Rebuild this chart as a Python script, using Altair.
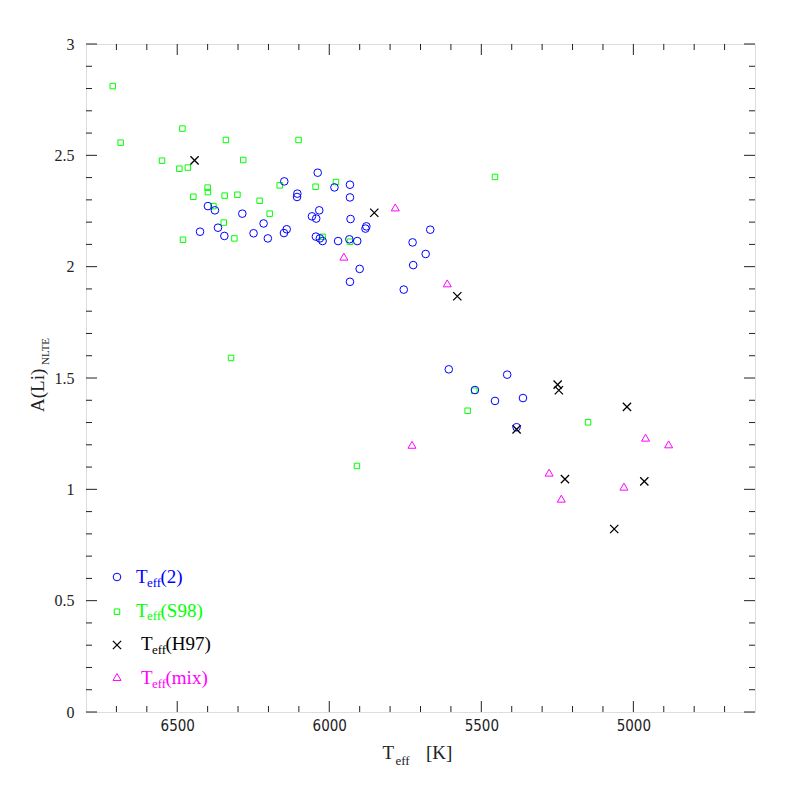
import altair as alt
import pandas as pd

# ---------------- data ----------------
# Teff(2) : blue circles
T2_TEFF = [6148, 6038, 6105, 6106, 5983, 5932, 5932, 6399, 6376, 6286, 6057, 6033, 6043, 5930,
           6425, 6366, 6216, 6345, 6249, 6202, 6149, 6140, 6044, 6031, 6022, 5971, 5934, 5908,
           5878, 5881, 5900, 5932, 5668, 5726, 5683, 5724, 5755, 5607, 5415, 5521, 5455, 5363, 5384]
T2_ALI = [2.383, 2.422, 2.328, 2.313, 2.356, 2.368, 2.311, 2.272, 2.253, 2.238, 2.226, 2.253, 2.216, 2.214,
          2.157, 2.175, 2.194, 2.138, 2.150, 2.127, 2.151, 2.168, 2.135, 2.127, 2.115, 2.115, 2.123, 2.115,
          2.181, 2.171, 1.990, 1.932, 2.166, 2.109, 2.057, 2.007, 1.897, 1.539, 1.515, 1.446, 1.397, 1.410, 1.279]

# Teff(S98) : green squares
S98_TEFF = [6712, 6686, 6483, 6340, 6101, 6550, 6283, 6493, 6465, 6163, 6045, 5978, 6400, 6399, 6447,
            6344, 6302, 6229, 6381, 6196, 6347, 6481, 6312, 6022, 5932, 6323, 5909, 5455, 5523, 5545, 5149]
S98_ALI = [2.811, 2.557, 2.620, 2.569, 2.569, 2.476, 2.479, 2.440, 2.445, 2.365, 2.359, 2.380, 2.355, 2.335, 2.314,
           2.319, 2.323, 2.296, 2.272, 2.238, 2.198, 2.121, 2.127, 2.134, 2.112, 1.590, 1.105, 2.403, 1.443, 1.353, 1.301]

# Teff(H97) : black crosses
H97_TEFF = [6443, 5852, 5579, 5249, 5245, 5384, 5021, 5225, 4964, 5063]
H97_ALI = [2.477, 2.242, 1.867, 1.470, 1.445, 1.269, 1.370, 1.046, 1.036, 0.822]

# Teff(mix) : magenta triangles
MIX_TEFF = [5783, 5952, 5612, 5728, 5277, 5237, 4960, 4884, 5031]
MIX_ALI = [2.266, 2.045, 1.925, 1.200, 1.075, 0.958, 1.232, 1.202, 1.012]

X_MAJOR = [6500, 6000, 5500, 5000]
X_MINOR = [6700, 6600, 6400, 6300, 6200, 6100, 5900, 5800, 5700, 5600,
           5400, 5300, 5200, 5100, 4900, 4800, 4700]
Y_MAJOR = [0, 0.5, 1, 1.5, 2, 2.5, 3]
Y_MINOR = [0.1, 0.2, 0.3, 0.4, 0.6, 0.7, 0.8, 0.9, 1.1, 1.2, 1.3, 1.4, 1.6, 1.7, 1.8, 1.9,
           2.1, 2.2, 2.3, 2.4, 2.6, 2.7, 2.8, 2.9]

LEGEND_LABELS = ["(2)", "(S98)", "(H97)", "(mix)"]

# ---------------- styling ----------------
W, H = 669, 668
SERIF = "Liberation Serif"
NARROW = "Liberation Sans Narrow, DejaVu Sans Condensed, Liberation Sans"
AXC = "#222222"
BLUE, GREEN, BLACK, MAGENTA = "#0000ff", "#00ff00", "#000000", "#ff00ff"
CROSS = "M-1,-1L1,1M1,-1L-1,1"

xscale = alt.Scale(domain=[4600, 6800], reverse=True, nice=False, zero=False)
yscale = alt.Scale(domain=[0, 3], nice=False, zero=False)
xaxis = alt.Axis(values=X_MAJOR, labelExpr="datum.value + ''", ticks=False, tickSize=0, domain=False,
                 grid=False, title=None, labelFont=NARROW, labelFontSize=15, labelPadding=6,
                 labelColor=AXC)
yaxis = alt.Axis(values=Y_MAJOR, labelExpr="datum.value + ''", ticks=False, tickSize=0, domain=False,
                 grid=False, title=None, labelFont=SERIF, labelFontSize=16, labelPadding=12,
                 labelColor=AXC)


def pts(tv, av, shape, color, size, sw=1.0):
    df = pd.DataFrame({"T": tv, "A": av})
    return alt.Chart(df).mark_point(shape=shape, filled=False, color=color, size=size,
                                    strokeWidth=sw, opacity=1).encode(
        x=alt.X("T:Q", scale=xscale, axis=xaxis),
        y=alt.Y("A:Q", scale=yscale, axis=yaxis),
    )


def xticks(vals, length):
    df = pd.DataFrame({"T": vals})
    base = alt.Chart(df).mark_rule(color=AXC, strokeWidth=1)
    enc_x = alt.X("T:Q", scale=xscale, axis=xaxis)
    bottom = base.encode(x=enc_x, y=alt.value(H), y2=alt.value(H - length))
    top = base.encode(x=enc_x, y=alt.value(0), y2=alt.value(length))
    return [bottom, top]


def yticks(vals, length):
    df = pd.DataFrame({"A": vals})
    base = alt.Chart(df).mark_rule(color=AXC, strokeWidth=1)
    enc_y = alt.Y("A:Q", scale=yscale, axis=yaxis)
    left = base.encode(y=enc_y, x=alt.value(0), x2=alt.value(length))
    right = base.encode(y=enc_y, x=alt.value(W), x2=alt.value(W - length))
    return [left, right]


def txt(s, x, y, size, color, angle=0, align="left"):
    return alt.Chart(pd.DataFrame({"t": [s]})).mark_text(
        font=SERIF, fontSize=size, color=color, align=align, baseline="alphabetic", angle=angle
    ).encode(x=alt.value(x), y=alt.value(y), text="t:N")


def sym(shape, color, size, x, y, sw=1.0):
    return alt.Chart(pd.DataFrame({"s": [1]})).mark_point(
        shape=shape, filled=False, color=color, size=size, strokeWidth=sw, opacity=1
    ).encode(x=alt.value(x), y=alt.value(y))


layers = []
layers += [pts(S98_TEFF, S98_ALI, "square", GREEN, 30),
           pts(T2_TEFF, T2_ALI, "circle", BLUE, 58),
           pts(H97_TEFF, H97_ALI, CROSS, BLACK, 68, 1.3),
           pts(MIX_TEFF, MIX_ALI, "triangle-up", MAGENTA, 64)]
layers += xticks(X_MAJOR, 11) + xticks(X_MINOR, 6)
layers += yticks(Y_MAJOR, 11) + yticks(Y_MINOR, 6)

# axis titles (with subscripts)
layers += [txt("T", 296.5, 714.7, 19, AXC),
           txt("eff", 309.5, 720.7, 13, AXC),
           txt("[K]", 340, 714.7, 19, AXC)]
layers += [txt("A(Li)", -42, 368, 19, AXC, angle=270),
           txt("NLTE", -37, 321, 11, AXC, angle=270)]

# legend
legend_rows = [
    ("circle", BLUE, 58, 533.0, 50, 539.3, 1.0),
    ("square", GREEN, 30, 567.7, 50, 572.7, 1.0),
    (CROSS, BLACK, 68, 601.0, 55, 606.0, 1.3),
    ("triangle-up", MAGENTA, 64, 633.0, 55, 640.0, 1.0),
]
for (shape, color, size, sy, tx, ty, sw), lab in zip(legend_rows, LEGEND_LABELS):
    layers.append(sym(shape, color, size, 31, sy, sw))
    layers.append(txt("T", tx, ty, 19, color))
    layers.append(txt("eff", tx + 11, ty + 3.7, 13, color))
    layers.append(txt(lab, tx + 24.5, ty, 19, color))

chart = alt.layer(*layers).properties(
    width=W, height=H,
    autosize=alt.AutoSizeParams(type="none"),
    padding={"left": 78, "top": 36, "right": 30, "bottom": 75},
).configure_view(stroke=AXC, strokeWidth=1).configure(background="white")

chart.save("out.html", embed_options={"renderer": "svg", "actions": False})
